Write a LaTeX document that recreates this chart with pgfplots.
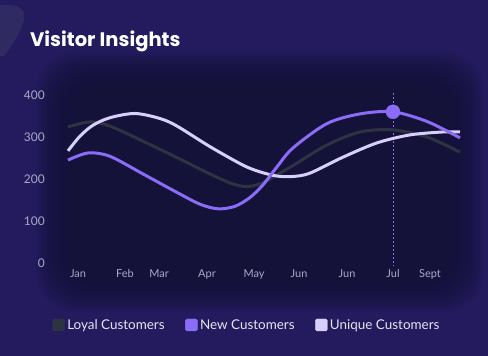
\documentclass[border=0pt]{standalone}
\usepackage{fontspec}
\setmainfont{Lato}
\newfontfamily\titlefont{Poppins}
\usepackage{pgfplots}
\pgfplotsset{compat=1.18}
\definecolor{bgout}{HTML}{231B5E}
\definecolor{bgin}{HTML}{141238}
\definecolor{loyal}{HTML}{2D3343}
\definecolor{newc}{HTML}{8A6CF6}
\definecolor{uniq}{HTML}{D8D0FB}
\definecolor{ticktext}{HTML}{ABA8C6}
\definecolor{legtext}{HTML}{E6E4F2}
\begin{document}
\begin{tikzpicture}
\path[use as bounding box] (0,0) rectangle (488bp,356bp);
\clip (0,0) rectangle (488bp,356bp);
\fill[bgout] (0,0) rectangle (488bp,356bp);
\foreach \i in {0,...,15} {
  \fill[bgin, opacity=0.13, rounded corners=40bp] ({36bp+\i*2.5bp},{44bp+\i*2.5bp}) rectangle ({484bp-\i*2.5bp},{304bp-\i*2.5bp});
}
\fill[gray, opacity=0.15] (0bp,351bp) .. controls (15bp,352bp) and (26bp,350bp) .. (24bp,336bp) .. controls (20bp,322bp) and (12bp,310bp) .. (4bp,300bp) -- (0bp,300bp) -- cycle;
\node[anchor=base west, inner sep=0pt, text=white, font=\titlefont\bfseries\fontsize{19.6}{19.6}\selectfont] at (30bp,309bp) {Visitor Insights};
\begin{axis}[
  at={(68bp,93bp)}, anchor=south west,
  scale only axis, width=392bp, height=168bp,
  xmin=68, xmax=460, ymin=0, ymax=400,
  clip=false,
  axis line style={draw=none},
  tick style={draw=none},
  ytick={0,100,200,300,400},
  xtick={78,125,159,207,254,299,347,393,430},
  xticklabels={Jan,Feb,Mar,Apr,May,Jun,Jun,Jul,Sept},
  /pgf/number format/assume math mode=true,
  yticklabel style={anchor=east, inner sep=0pt, xshift=-23bp, text=ticktext, font=\fontsize{12}{12}\selectfont},
  xticklabel style={anchor=base, inner sep=0pt, yshift=-14bp, text=ticktext, font=\fontsize{11}{11}\selectfont},
  legend columns=3,
  legend style={at={(0.457,-0.369)}, anchor=center, draw=none, fill=none,
    text=legtext, font=\fontsize{13.5}{13.5}\selectfont,
    nodes={inner sep=2.5bp},
    /tikz/every even column/.append style={column sep=18bp}},
  legend image code/.code={\fill[#1, rounded corners=1.5bp] (0bp,-6bp) rectangle (12bp,6bp);},
]
\addlegendimage{loyal, fill=loyal}
\addlegendentry{Loyal Customers}
\addlegendimage{newc, fill=newc}
\addlegendentry{New Customers}
\addlegendimage{uniq, fill=uniq}
\addlegendentry{Unique Customers}
\draw[newc, line width=0.7bp, dash pattern=on 2bp off 2bp] (axis cs:393,405) -- (axis cs:393,-5);
% Loyal
\addplot[forget plot, loyal, line width=3bp, smooth, tension=0.5] coordinates {
(68,324) (90,336) (110,326) (143,290) (177,251) (210,212) (232,189) (247,182) (262,190) (277,210) (293,232) (327,281) (360,312) (393,317) (427,300) (460,264)};
% Unique
\addplot[forget plot, uniq, line width=3bp, smooth, tension=0.5] coordinates {
(68,267) (80,302) (93,328) (110,346) (135,356) (160,344) (177,326) (210,277) (243,233) (260,217) (277,207) (293,206) (310,214) (343,252) (377,286) (410,305) (443,312) (460,312)};
% New
\addplot[forget plot, newc, line width=3bp, smooth, tension=0.5] coordinates {
(68,245) (88,262) (110,254) (143,212) (177,168) (200,140) (218,129) (235,135) (250,156) (263,186) (277,229) (293,274) (327,332) (360,355) (393,360) (427,337) (460,298)};
\addplot[forget plot, only marks, mark=*, mark size=7bp, color=newc] coordinates {(393,360)};
\end{axis}
\end{tikzpicture}
\end{document}
